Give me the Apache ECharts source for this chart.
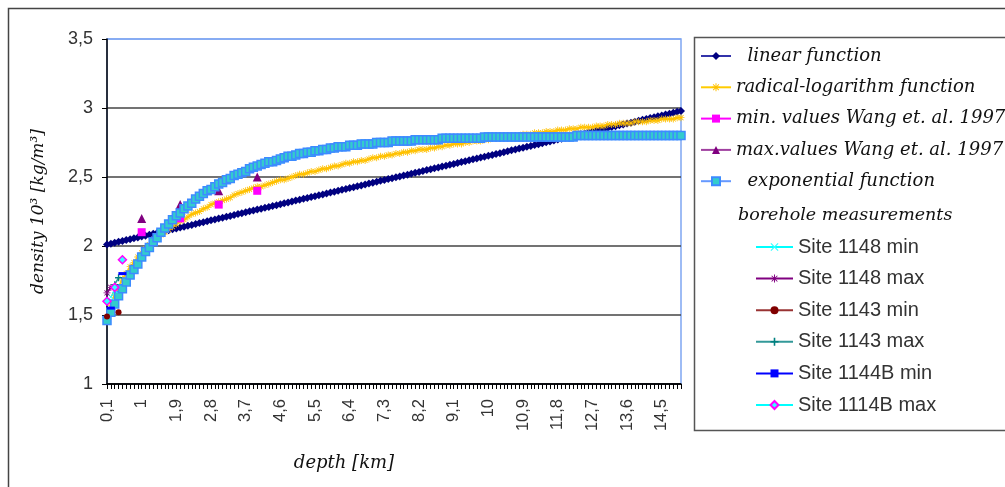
<!DOCTYPE html>
<html>
<head>
<meta charset="utf-8">
<title>density vs depth</title>
<script src="https://cdn.jsdelivr.net/npm/echarts@6/dist/echarts.min.js"></script>
<style>
  html, body { margin: 0; padding: 0; background: #fff; }
  #chart { width: 1005px; height: 487px; }
</style>
</head>
<body>
<div id="chart"></div>
<script>
// depth [km], one category every 0.1 km
var depths = [
  0.1,0.2,0.3,0.4,0.5,0.6,0.7,0.8,0.9,1,
  1.1,1.2,1.3,1.4,1.5,1.6,1.7,1.8,1.9,2,
  2.1,2.2,2.3,2.4,2.5,2.6,2.7,2.8,2.9,3,
  3.1,3.2,3.3,3.4,3.5,3.6,3.7,3.8,3.9,4,
  4.1,4.2,4.3,4.4,4.5,4.6,4.7,4.8,4.9,5,
  5.1,5.2,5.3,5.4,5.5,5.6,5.7,5.8,5.9,6,
  6.1,6.2,6.3,6.4,6.5,6.6,6.7,6.8,6.9,7,
  7.1,7.2,7.3,7.4,7.5,7.6,7.7,7.8,7.9,8,
  8.1,8.2,8.3,8.4,8.5,8.6,8.7,8.8,8.9,9,
  9.1,9.2,9.3,9.4,9.5,9.6,9.7,9.8,9.9,10,
  10.1,10.2,10.3,10.4,10.5,10.6,10.7,10.8,10.9,11,
  11.1,11.2,11.3,11.4,11.5,11.6,11.7,11.8,11.9,12,
  12.1,12.2,12.3,12.4,12.5,12.6,12.7,12.8,12.9,13,
  13.1,13.2,13.3,13.4,13.5,13.6,13.7,13.8,13.9,14,
  14.1,14.2,14.3,14.4,14.5,14.6,14.7,14.8,14.9,15
];

// density 10^3 kg/m^3
var linearFn = [
  2.010,2.017,2.023,2.030,2.036,2.043,2.049,2.056,2.062,2.069,
  2.075,2.082,2.088,2.095,2.101,2.108,2.114,2.121,2.127,2.134,
  2.140,2.147,2.153,2.160,2.166,2.173,2.179,2.186,2.192,2.199,
  2.205,2.212,2.218,2.225,2.231,2.238,2.244,2.251,2.257,2.264,
  2.270,2.277,2.283,2.290,2.296,2.303,2.309,2.316,2.322,2.329,
  2.335,2.342,2.348,2.355,2.361,2.368,2.374,2.381,2.387,2.394,
  2.400,2.407,2.413,2.420,2.426,2.433,2.439,2.446,2.452,2.459,
  2.465,2.472,2.478,2.485,2.491,2.498,2.504,2.511,2.517,2.524,
  2.530,2.537,2.543,2.550,2.556,2.563,2.569,2.576,2.582,2.589,
  2.595,2.602,2.608,2.615,2.621,2.628,2.634,2.641,2.647,2.654,
  2.660,2.667,2.673,2.680,2.686,2.693,2.699,2.706,2.712,2.719,
  2.725,2.732,2.738,2.745,2.751,2.758,2.764,2.771,2.777,2.784,
  2.790,2.797,2.803,2.810,2.816,2.823,2.829,2.836,2.842,2.849,
  2.855,2.862,2.868,2.875,2.881,2.888,2.894,2.901,2.907,2.914,
  2.920,2.927,2.933,2.940,2.946,2.953,2.959,2.966,2.972,2.979
];

var radicalLogFn = [
  1.48,1.57,1.64,1.70,1.76,1.80,1.85,1.88,1.92,1.95,
  1.98,2.01,2.03,2.06,2.08,2.10,2.12,2.14,2.16,2.18,
  2.19,2.21,2.23,2.24,2.25,2.27,2.28,2.30,2.31,2.32,
  2.33,2.34,2.35,2.37,2.38,2.39,2.40,2.41,2.42,2.43,
  2.43,2.44,2.45,2.46,2.47,2.48,2.48,2.49,2.50,2.51,
  2.52,2.52,2.53,2.54,2.54,2.55,2.56,2.56,2.57,2.58,
  2.58,2.59,2.60,2.60,2.61,2.61,2.62,2.62,2.63,2.64,
  2.64,2.65,2.65,2.66,2.66,2.67,2.67,2.68,2.68,2.69,
  2.69,2.70,2.70,2.70,2.71,2.71,2.72,2.72,2.73,2.73,
  2.74,2.74,2.74,2.75,2.75,2.76,2.76,2.76,2.77,2.77,
  2.78,2.78,2.78,2.79,2.79,2.79,2.80,2.80,2.81,2.81,
  2.81,2.82,2.82,2.82,2.83,2.83,2.83,2.84,2.84,2.84,
  2.85,2.85,2.85,2.86,2.86,2.86,2.86,2.87,2.87,2.87,
  2.88,2.88,2.88,2.89,2.89,2.89,2.89,2.90,2.90,2.90,
  2.90,2.91,2.91,2.91,2.92,2.92,2.92,2.92,2.93,2.93
];

var exponentialFn = [
  1.46,1.52,1.58,1.64,1.69,1.74,1.79,1.83,1.87,1.92,
  1.96,1.99,2.03,2.06,2.10,2.13,2.16,2.19,2.22,2.24,
  2.27,2.29,2.31,2.34,2.36,2.38,2.40,2.41,2.43,2.45,
  2.46,2.48,2.49,2.51,2.52,2.53,2.54,2.56,2.57,2.58,
  2.59,2.60,2.61,2.61,2.62,2.63,2.64,2.65,2.65,2.66,
  2.67,2.67,2.68,2.68,2.69,2.69,2.70,2.70,2.71,2.71,
  2.72,2.72,2.72,2.73,2.73,2.73,2.74,2.74,2.74,2.74,
  2.75,2.75,2.75,2.75,2.76,2.76,2.76,2.76,2.76,2.76,
  2.77,2.77,2.77,2.77,2.77,2.77,2.77,2.78,2.78,2.78,
  2.78,2.78,2.78,2.78,2.78,2.78,2.78,2.78,2.79,2.79,
  2.79,2.79,2.79,2.79,2.79,2.79,2.79,2.79,2.79,2.79,
  2.79,2.79,2.79,2.79,2.79,2.79,2.79,2.79,2.79,2.79,
  2.79,2.79,2.80,2.80,2.80,2.80,2.80,2.80,2.80,2.80,
  2.80,2.80,2.80,2.80,2.80,2.80,2.80,2.80,2.80,2.80,
  2.80,2.80,2.80,2.80,2.80,2.80,2.80,2.80,2.80,2.80
];

// Wang et. al. 1997
var wangMinDepth = [1, 2, 3, 4];
var wangMinValue = [2.1, 2.2, 2.3, 2.4];
var wangMaxDepth = [1, 2, 3, 4];
var wangMaxValue = [2.2, 2.3, 2.4, 2.5];

// borehole measurements
var site1148MinDepth = [0.2, 0.3];
var site1148MinValue = [1.63, 1.68];
var site1148MaxDepth = [0.1, 0.2];
var site1148MaxValue = [1.66, 1.70];
var site1143MinDepth = [0.1, 0.4];
var site1143MinValue = [1.49, 1.52];
var site1143MaxDepth = [0.3, 0.4];
var site1143MaxValue = [1.72, 1.77];
var site1144BMinDepth = [0.2, 0.5];
var site1144BMinValue = [1.55, 1.80];
var site1114BMaxDepth = [0.1, 0.3, 0.5];
var site1114BMaxValue = [1.60, 1.70, 1.90];

// place sparse points on the depth categories, gaps stay empty
function onDepths(ds, vs) {
  var out = depths.map(function () { return null; });
  ds.forEach(function (d, i) { out[depths.indexOf(d)] = vs[i]; });
  return out;
}

var comma = function (v) { return String(v).replace('.', ','); };

var plusPath = 'path://M4 0H6V4H10V6H6V10H4V6H0V4H4Z';
var crossPath = 'path://M1 0L5 4L9 0L10 1L6 5L10 9L9 10L5 6L1 10L0 9L4 5L0 1Z';
var starPath = 'path://M4.4 0H5.6V3.6L8.2 1L9 1.8L6.4 4.4H10V5.6H6.4L9 8.2L8.2 9L5.6 6.4V10H4.4V6.4L1.8 9L1 8.2L3.6 5.6H0V4.4H3.6L1 1.8L1.8 1L4.4 3.6Z';
var dashPath = 'path://M0 0H10V3H0Z';

var serif = { fontFamily: 'DejaVu Serif', fontStyle: 'italic', color: '#111' };

var myChart = echarts.init(document.getElementById('chart'));
var option = {
  animation: false,
  backgroundColor: '#fff',
  grid: {
    left: 107, top: 39, width: 574, height: 345,
    show: true, borderColor: '#7fa7f2', borderWidth: 1.5, backgroundColor: '#fff'
  },
  graphic: [
    { type: 'rect', z: -10, silent: true, shape: { x: 8.5, y: 8.5, width: 1100, height: 600 },
      style: { fill: 'none', stroke: '#444', lineWidth: 1.5 } },
    { type: 'rect', z: 1, silent: true, shape: { x: 694.5, y: 37.5, width: 400, height: 393 },
      style: { fill: '#fff', stroke: '#555', lineWidth: 1.5 } },
    { type: 'text', z: 2, left: 738, top: 206, silent: true,
      style: { text: 'borehole measurements', font: 'italic 17.5px "DejaVu Serif"', fill: '#111' } }
  ],
  legend: [
    {
      data: ['linear function', 'radical-logarithm function', 'min. values Wang et. al. 1997',
             'max.values Wang et. al. 1997', 'exponential function'],
      orient: 'vertical', left: 700, top: 47, padding: 0,
      itemWidth: 30, itemHeight: 10, itemGap: 13.3,
      selectedMode: false,
      formatter: function (name) {
        if (name === 'linear function') return '  ' + name;
        if (name === 'exponential function') return '  ' + name;
        return name;
      },
      textStyle: Object.assign({ fontSize: 18 }, serif)
    },
    {
      data: ['Site 1148 min', 'Site 1148 max', 'Site 1143 min', 'Site 1143 max',
             'Site 1144B min', 'Site 1114B max'],
      orient: 'vertical', left: 755, top: 237, padding: 0,
      itemWidth: 37, itemHeight: 10, itemGap: 11.6,
      selectedMode: false,
      textStyle: { fontFamily: 'Liberation Sans', fontSize: 20, color: '#333' }
    }
  ],
  xAxis: {
    type: 'category',
    data: depths.map(String),
    boundaryGap: false,
    name: 'depth [km]',
    nameLocation: 'middle',
    nameGap: 70,
    nameTextStyle: Object.assign({ fontSize: 18, padding: [0, 100, 0, 0] }, serif),
    axisLine: { lineStyle: { color: '#000', width: 1.5 } },
    axisTick: { interval: 0, length: 5, lineStyle: { color: '#000' } },
    axisLabel: { interval: 8, rotate: 90, margin: 15, fontSize: 16.5, color: '#333',
                 fontFamily: 'Liberation Sans', formatter: comma },
    splitLine: { show: false }
  },
  yAxis: {
    type: 'value',
    min: 1, max: 3.5, interval: 0.5,
    name: 'density 10\u00b3 [kg/m\u00b3]',
    nameLocation: 'middle',
    nameGap: 60,
    nameTextStyle: Object.assign({ fontSize: 17 }, serif),
    axisLine: { show: true, lineStyle: { color: '#000', width: 1.5 } },
    axisTick: { show: true, length: 5, lineStyle: { color: '#000' } },
    axisLabel: { fontSize: 18, color: '#333', margin: 14, fontFamily: 'Liberation Sans', formatter: comma },
    splitLine: { lineStyle: { color: ['#000', '#444', '#444', '#444', '#444', '#7fa7f2'], width: 1.5 } }
  },
  series: [
    { name: 'linear function', type: 'line', data: linearFn, showAllSymbol: true,
      symbol: 'diamond', symbolSize: 8,
      itemStyle: { color: '#000080' }, lineStyle: { color: '#3333aa', width: 2 } },
    { name: 'radical-logarithm function', type: 'line', data: radicalLogFn, showAllSymbol: true,
      symbol: starPath, symbolSize: 7,
      itemStyle: { color: '#ffc000' }, lineStyle: { color: '#ffcc00', width: 2 } },
    { name: 'min. values Wang et. al. 1997', type: 'line', data: onDepths(wangMinDepth, wangMinValue),
      showAllSymbol: true, connectNulls: false, symbol: 'rect', symbolSize: 8,
      itemStyle: { color: '#ff00ff' }, lineStyle: { color: '#ff00ff', width: 1.5 } },
    { name: 'max.values Wang et. al. 1997', type: 'line', data: onDepths(wangMaxDepth, wangMaxValue),
      showAllSymbol: true, connectNulls: false, symbol: 'triangle', symbolSize: 9,
      itemStyle: { color: '#800080' }, lineStyle: { color: '#a040a0', width: 1.5 } },
    { name: 'exponential function', type: 'line', data: exponentialFn, showAllSymbol: true,
      symbol: 'rect', symbolSize: 8,
      itemStyle: { color: '#33cccc', borderColor: '#3d8bff', borderWidth: 1.5 },
      lineStyle: { color: '#6699ff', width: 1.5 } },
    { name: 'Site 1148 min', type: 'line', data: onDepths(site1148MinDepth, site1148MinValue),
      showAllSymbol: true, symbol: crossPath, symbolSize: 6,
      itemStyle: { color: '#33ffff' }, lineStyle: { color: '#00ffff', width: 1.5 } },
    { name: 'Site 1148 max', type: 'line', data: onDepths(site1148MaxDepth, site1148MaxValue),
      showAllSymbol: true, symbol: starPath, symbolSize: 7,
      itemStyle: { color: '#800080' }, lineStyle: { color: '#800080', width: 1.5 } },
    { name: 'Site 1143 min', type: 'line', data: onDepths(site1143MinDepth, site1143MinValue),
      showAllSymbol: true, symbol: 'circle', symbolSize: 6,
      itemStyle: { color: '#800000' }, lineStyle: { color: '#993333', width: 1.5 } },
    { name: 'Site 1143 max', type: 'line', data: onDepths(site1143MaxDepth, site1143MaxValue),
      showAllSymbol: true, symbol: plusPath, symbolSize: 7,
      itemStyle: { color: '#008080' }, lineStyle: { color: '#339999', width: 1.5 } },
    { name: 'Site 1144B min', type: 'line', data: onDepths(site1144BMinDepth, site1144BMinValue),
      showAllSymbol: true, symbol: dashPath, symbolSize: [8, 3],
      itemStyle: { color: '#0000ff' }, lineStyle: { color: '#0000ff', width: 1.5 } },
    { name: 'Site 1114B max', type: 'line', data: onDepths(site1114BMaxDepth, site1114BMaxValue),
      showAllSymbol: true, symbol: 'diamond', symbolSize: 8,
      itemStyle: { color: '#33ffff', borderColor: '#ff00ff', borderWidth: 1.5 },
      lineStyle: { color: '#00ffff', width: 1.5 } }
  ]
};
myChart.setOption(option);
</script>
</body>
</html>
